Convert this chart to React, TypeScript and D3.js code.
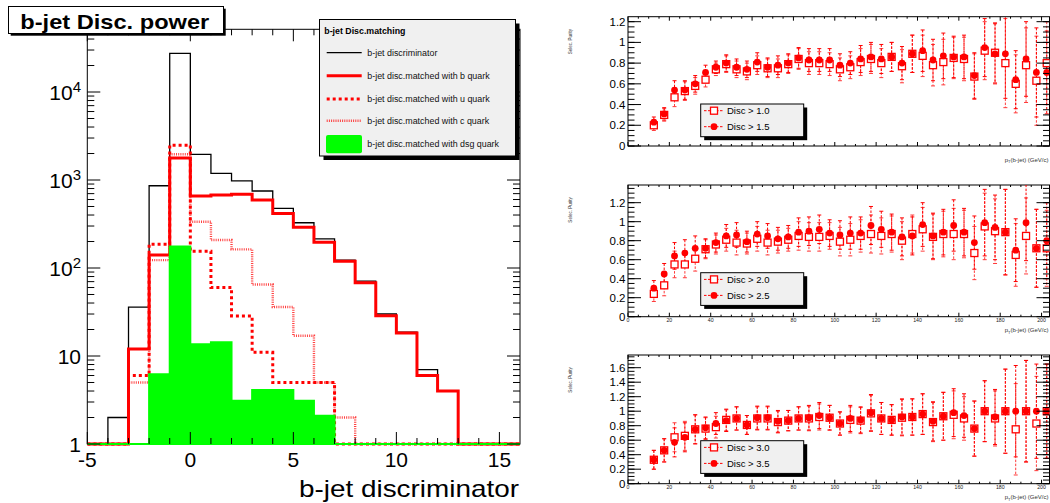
import React from 'react';
import * as d3 from 'd3';

const FONT = '"Liberation Sans", Arial, Helvetica, sans-serif';
const RED = '#ff0000';
const GREEN = '#00ff00';

// ---- left pad: b-jet discriminator, bins of width 1 (low edges)
const discBinLow = [-5, -4, -3, -2, -1, 0, 1, 2, 3, 4, 5, 6, 7, 8, 9, 10, 11, 12, 13, 14, 15];
const allJets = [0, 2, 36, 860, 27500, 1960, 1190, 980, 750, 477, 327, 214, 123, 71, 30, 18.7, 7, 4, 0, 0, 0];
const bQuark = [0, 0, 12, 141, 1780, 658, 675, 688, 593, 417, 290, 196, 119, 68, 28.7, 18.3, 6, 4, 0, 0, 0];
const uQuark = [0, 0, 6, 186, 2480, 155, 60, 28.5, 11, 5, 5, 5, 0, 0, 0, 0, 0, 0, 0, 0, 0];
const cQuark = [0, 0, 5, 123, 1960, 336, 208, 163, 65, 36, 17, 5, 2, 0, 0, 0, 0, 0, 0, 0, 0];
const dsgQuark = [0, 0, 0, 6.2, 175, 13.6, 14.3, 3.1, 4.1, 4.1, 3.1, 2.1, 0, 0, 0, 0, 0, 0, 0, 0, 0];

const discLegend = [
  'b-jet discriminator',
  'b-jet disc.matched with b quark',
  'b-jet disc.matched with u quark',
  'b-jet disc.matched with c quark',
  'b-jet disc.matched with dsg quark',
];
const discXTicks = [-5, 0, 5, 10, 15];
const discYTicks = [1, 10, 100, 1000, 10000];

// ---- right pads: selection purity vs pT(b-jet)
const ptBins = [12.5, 17.5, 22.5, 27.5, 32.5, 37.5, 42.5, 47.5, 52.5, 57.5, 62.5, 67.5, 72.5, 77.5, 82.5, 87.5,
  92.5, 97.5, 102.5, 107.5, 112.5, 117.5, 122.5, 127.5, 132.5, 137.5, 142.5, 147.5, 152.5, 157.5, 162.5, 167.5,
  172.5, 177.5, 182.5, 187.5, 192.5, 197.5, 202.5];

const purityDisc10 = [0.20, 0.30, 0.47, 0.53, 0.58, 0.64, 0.74, 0.79, 0.74, 0.72, 0.78, 0.75, 0.75, 0.79, 0.84, 0.80,
  0.80, 0.79, 0.74, 0.76, 0.81, 0.84, 0.80, 0.86, 0.77, 0.89, 0.87, 0.78, 0.81, 0.85, 0.84, 0.67, 0.92, 0.90, 0.80,
  0.60, 0.78, 0.63, 0.80];
const purityDisc15 = [0.23, 0.31, 0.54, 0.54, 0.60, 0.71, 0.76, 0.80, 0.76, 0.74, 0.81, 0.76, 0.78, 0.80, 0.85, 0.83,
  0.83, 0.83, 0.78, 0.80, 0.84, 0.86, 0.84, 0.86, 0.80, 0.89, 0.92, 0.83, 0.87, 0.86, 0.86, 0.68, 0.95, 0.89, 0.89,
  0.64, 0.84, 0.71, 0.71];
const errDisc1x = [0.05, 0.06, 0.09, 0.09, 0.08, 0.07, 0.06, 0.08, 0.08, 0.08, 0.09, 0.09, 0.09, 0.09, 0.10, 0.11,
  0.11, 0.11, 0.11, 0.11, 0.13, 0.14, 0.14, 0.14, 0.16, 0.18, 0.20, 0.20, 0.22, 0.20, 0.21, 0.22, 0.28, 0.29, 0.43,
  0.28, 0.36, 0.43, 0.40];

const purityDisc20 = [0.24, 0.33, 0.55, 0.55, 0.61, 0.71, 0.76, 0.81, 0.78, 0.77, 0.82, 0.78, 0.79, 0.81, 0.85, 0.84,
  0.84, 0.85, 0.79, 0.81, 0.85, 0.87, 0.85, 0.87, 0.80, 0.87, 0.92, 0.84, 0.87, 0.87, 0.87, 0.67, 0.95, 0.90, 0.89,
  0.65, 0.85, 0.72, 0.72];
const purityDisc25 = [0.30, 0.45, 0.64, 0.67, 0.72, 0.72, 0.78, 0.85, 0.86, 0.79, 0.87, 0.85, 0.82, 0.84, 0.89, 0.90,
  0.92, 0.88, 0.86, 0.88, 0.88, 0.96, 0.92, 0.89, 0.84, 0.85, 0.97, 0.85, 0.89, 0.96, 0.89, 0.78, 0.99, 0.94, 0.89,
  0.70, 0.99, 0.72, 0.80];
const errDisc2x = [0.08, 0.11, 0.14, 0.14, 0.13, 0.10, 0.10, 0.12, 0.13, 0.11, 0.13, 0.13, 0.12, 0.12, 0.15, 0.15,
  0.15, 0.14, 0.15, 0.17, 0.17, 0.20, 0.19, 0.19, 0.20, 0.20, 0.23, 0.24, 0.24, 0.27, 0.25, 0.28, 0.35, 0.34, 0.45,
  0.33, 0.40, 0.41, 0.40];

const purityDisc30 = [0.33, 0.46, 0.64, 0.66, 0.75, 0.76, 0.78, 0.88, 0.90, 0.81, 0.90, 0.90, 0.85, 0.87, 0.90, 0.90,
  0.92, 0.91, 0.83, 0.88, 0.87, 0.97, 0.90, 0.88, 0.91, 0.92, 0.96, 0.85, 0.93, 0.95, 0.90, 0.76, 1.0, 0.90, 1.0,
  0.75, 1.0, 0.83, 1.0];
const purityDisc35 = [0.33, 0.46, 0.57, 0.64, 0.75, 0.77, 0.83, 0.87, 0.90, 0.81, 0.91, 0.91, 0.86, 0.87, 0.90, 0.91,
  0.94, 0.91, 0.83, 0.90, 0.88, 0.98, 0.90, 0.88, 0.92, 0.92, 0.96, 0.86, 0.93, 0.98, 0.94, 0.76, 1.0, 0.92, 1.0,
  1.0, 1.0, 1.0, 1.0];
const errDisc3x = [0.13, 0.16, 0.20, 0.20, 0.20, 0.15, 0.15, 0.15, 0.16, 0.13, 0.16, 0.16, 0.15, 0.14, 0.16, 0.17,
  0.18, 0.17, 0.16, 0.18, 0.18, 0.25, 0.22, 0.21, 0.25, 0.25, 0.28, 0.27, 0.33, 0.33, 0.30, 0.38, 0.42, 0.38, 0.58,
  0.63, 0.70, 0.65, 0.65];

const ptTicks = [0, 20, 40, 60, 80, 100, 120, 140, 160, 180, 200];

const DiscPanel = () => {
  const L = 87.3, R = 520, T = 29.3, B = 444;
  const x = d3.scaleLinear().domain([-5, 16]).range([L, R]);
  const y = d3.scaleLog().domain([1, 51600]).range([B, T]);

  const steps = (vals: number[]) => {
    const pts: [number, number][] = [];
    vals.forEach((v, i) => {
      const yy = y(Math.max(v, 1));
      pts.push([x(discBinLow[i]), yy], [x(discBinLow[i] + 1), yy]);
    });
    return pts;
  };
  const line = d3.line();
  const area = d3.area().y0(y(1));

  const minorX = d3.range(-4, 16).filter((v) => !discXTicks.includes(v));
  const minorY: number[] = [];
  discYTicks.forEach((d) => {
    for (let k = 2; k <= 9; k++) if (k * d < 51600) minorY.push(k * d);
  });

  const rows = [52.7, 75.7, 99, 120.7, 144];

  return (
    <g>
      <defs>
        <clipPath id="discClip">
          <rect x={L} y={T} width={R - L} height={B - T + 2} />
        </clipPath>
      </defs>
      <rect x={L} y={T} width={R - L} height={B - T} fill="white" stroke="black" strokeWidth={1} />

      {/* histograms */}
      <g clipPath="url(#discClip)" fill="none">
        <path d={line(steps(allJets)) || ''} stroke="black" strokeWidth={1.3} />
        <path d={line(steps(bQuark)) || ''} stroke={RED} strokeWidth={3} />
        <path d={line(steps(uQuark)) || ''} stroke={RED} strokeWidth={3} strokeDasharray="3,3" />
        <path d={line(steps(cQuark)) || ''} stroke={RED} strokeWidth={2.4} strokeDasharray="1,1.2" opacity={0.75} />
        <path d={area(steps(dsgQuark)) || ''} fill={GREEN} stroke={GREEN} strokeWidth={2} />
      </g>

      {/* ticks */}
      <g stroke="black" strokeWidth={1}>
        {discXTicks.map((v) => (
          <React.Fragment key={'xm' + v}>
            <line x1={x(v)} x2={x(v)} y1={B} y2={B - 12} />
            <line x1={x(v)} x2={x(v)} y1={T} y2={T + 12} />
          </React.Fragment>
        ))}
        {minorX.map((v) => (
          <React.Fragment key={'xn' + v}>
            <line x1={x(v)} x2={x(v)} y1={B} y2={B - 6} />
            <line x1={x(v)} x2={x(v)} y1={T} y2={T + 6} />
          </React.Fragment>
        ))}
        {discYTicks.map((v) => (
          <React.Fragment key={'ym' + v}>
            <line x1={L} x2={L + 13} y1={y(v)} y2={y(v)} />
            <line x1={R} x2={R - 13} y1={y(v)} y2={y(v)} />
          </React.Fragment>
        ))}
        {minorY.map((v) => (
          <React.Fragment key={'yn' + v}>
            <line x1={L} x2={L + 7} y1={y(v)} y2={y(v)} />
            <line x1={R} x2={R - 7} y1={y(v)} y2={y(v)} />
          </React.Fragment>
        ))}
      </g>

      {/* tick labels */}
      <g fontFamily={FONT} fontSize={21} fill="black">
        {discXTicks.map((v) => (
          <text key={'xl' + v} x={x(v)} y={467} textAnchor="middle">{v}</text>
        ))}
        {discYTicks.map((v, i) => (
          <text key={'yl' + v} x={81} y={y(v) + 8} textAnchor="end">
            {i === 0 ? '1' : '10'}
            {i > 1 && <tspan fontSize={15} dy={-8}>{i}</tspan>}
          </text>
        ))}
      </g>

      <text x={299} y={497} fontFamily={FONT} fontSize={24} textLength={220} lengthAdjust="spacingAndGlyphs">
        b-jet discriminator
      </text>

      {/* title box */}
      <rect x={10.7} y={8.7} width={215} height={27} fill="black" />
      <rect x={8.5} y={6.5} width={215} height={27} fill="white" stroke="black" strokeWidth={1} />
      <text x={20.3} y={29} fontFamily={FONT} fontWeight="bold" fontSize={21} textLength={189} lengthAdjust="spacingAndGlyphs">
        b-jet Disc. power
      </text>

      {/* legend */}
      <rect x={323.5} y={23.5} width={196} height={136.5} fill="black" />
      <rect x={319.5} y={19.5} width={196} height={136.5} fill="#f0f0f0" stroke="black" strokeWidth={1} />
      <text x={324.3} y={33.5} fontFamily={FONT} fontWeight="bold" fontSize={8.8}>b-jet Disc.matching</text>
      <line x1={326.7} x2={361.7} y1={rows[0]} y2={rows[0]} stroke="black" strokeWidth={1.3} />
      <line x1={326.7} x2={361.7} y1={rows[1]} y2={rows[1]} stroke={RED} strokeWidth={3} />
      <line x1={326.7} x2={361.7} y1={rows[2]} y2={rows[2]} stroke={RED} strokeWidth={3} strokeDasharray="3,3" />
      <line x1={326.7} x2={361.7} y1={rows[3]} y2={rows[3]} stroke={RED} strokeWidth={2.4} strokeDasharray="1,1.2" opacity={0.75} />
      <rect x={326} y={135} width={36} height={18.3} rx={2} fill={GREEN} />
      {discLegend.map((t, i) => (
        <text key={t} x={367.3} y={rows[i] + 3} fontFamily={FONT} fontSize={8.9} fill="#111">{t}</text>
      ))}
    </g>
  );
};

interface PanelProps {
  id: string;
  top: number;
  bottom: number;
  yMax: number;
  yMajorMax: number;
  sq: number[];
  ci: number[];
  err: number[];
  labels: string[];
  showPtLabels: boolean;
  legTop: number;
}

const PurityPanel = ({ id, top, bottom, yMax, yMajorMax, sq, ci, err, labels, showPtLabels, legTop }: PanelProps) => {
  const L = 628, R = 1049.5;
  const x = d3.scaleLinear().domain([0, 205]).range([L, 1051.9]);
  const y = d3.scaleLinear().domain([0, yMax]).range([bottom, top]);
  const major = d3.range(0, yMajorMax + 0.001, 0.2);
  const minor = d3.range(0, yMax, 0.05);
  const minorPt = d3.range(0, 205, 5);
  const fmt = (v: number) => String(+v.toFixed(1));

  const errBars = (vals: number[], color: string, key: string) =>
    vals.map((v, i) => {
      const cx = x(ptBins[i]);
      const y1 = y(v + err[i]);
      const y2 = y(Math.max(v - err[i], 0));
      return (
        <g key={key + i} stroke={color} strokeWidth={1}>
          <line x1={cx} x2={cx} y1={y1} y2={y2} strokeDasharray="2.5,1.5" />
          <line x1={cx - 2} x2={cx + 2} y1={y1} y2={y1} />
          <line x1={cx - 2} x2={cx + 2} y1={y2} y2={y2} />
        </g>
      );
    });

  return (
    <g>
      <defs>
        <clipPath id={id}>
          <rect x={L} y={top} width={R - L} height={bottom - top} />
        </clipPath>
      </defs>
      <rect x={L} y={top} width={R - L} height={bottom - top} fill="white" stroke="black" strokeWidth={1} />

      <g clipPath={`url(#${id})`}>
        {errBars(sq, '#ff3a3a', 'es')}
        {errBars(ci, RED, 'ec')}
        {sq.map((v, i) => (
          <rect key={'s' + i} x={x(ptBins[i]) - 3.5} y={y(v) - 3.5} width={7} height={7}
            fill="white" stroke={RED} strokeWidth={1.3} />
        ))}
        {ci.map((v, i) => (
          <circle key={'c' + i} cx={x(ptBins[i])} cy={y(v)} r={3.4} fill={RED} />
        ))}
      </g>

      {/* axes ticks */}
      <g stroke="black" strokeWidth={1}>
        {major.map((v) => (
          <React.Fragment key={'m' + v}>
            <line x1={L} x2={L + 13} y1={y(v)} y2={y(v)} />
            <line x1={R} x2={R - 13} y1={y(v)} y2={y(v)} />
          </React.Fragment>
        ))}
        {minor.map((v) => (
          <React.Fragment key={'n' + v}>
            <line x1={L} x2={L + 6.5} y1={y(v)} y2={y(v)} />
            <line x1={R} x2={R - 6.5} y1={y(v)} y2={y(v)} />
          </React.Fragment>
        ))}
        {minorPt.map((v) => {
          const len = v % 20 === 0 ? 4 : 2;
          return (
            <React.Fragment key={'p' + v}>
              <line x1={x(v)} x2={x(v)} y1={bottom} y2={bottom - len} />
              <line x1={x(v)} x2={x(v)} y1={top} y2={top + len} />
            </React.Fragment>
          );
        })}
      </g>

      <g fontFamily={FONT} fontSize={11.5} textAnchor="end">
        {major.map((v) => (
          <text key={'l' + v} x={625.5} y={y(v) + 4}>{fmt(v)}</text>
        ))}
      </g>
      {showPtLabels && (
        <g fontFamily={FONT} fontSize={5.2} textAnchor="middle" fill="#222">
          {ptTicks.map((v) => (
            <text key={'pl' + v} x={x(v)} y={bottom + 5}>{v}</text>
          ))}
        </g>
      )}

      <text transform={`translate(572, ${top + 25}) rotate(-90)`} fontFamily={FONT} fontSize={4.5}
        textAnchor="middle" fill="#333">Selec. Purity</text>
      <text x={1048.5} y={bottom + 15.5} fontFamily={FONT} fontSize={6} textAnchor="end" fill="#333">
        p<tspan fontSize={4} dy={1.5}>T</tspan><tspan dy={-1.5}>(b-jet) (GeV/c)</tspan>
      </text>

      {/* legend */}
      <rect x={704.2} y={legTop + 3.5} width={103} height={32.7} fill="black" />
      <rect x={700.7} y={legTop} width={103} height={32.7} fill="#f0f0f0" stroke="black" strokeWidth={1} />
      {[0, 1].map((k) => {
        const ly = legTop + 6.7 + k * 16;
        return (
          <g key={'lg' + k}>
            <line x1={704} x2={723} y1={ly} y2={ly} stroke={RED} strokeWidth={1} strokeDasharray="2.5,1.5" />
            {k === 0 ? (
              <rect x={710.5} y={ly - 3.5} width={7} height={7} fill="white" stroke={RED} strokeWidth={1.3} />
            ) : (
              <circle cx={714} cy={ly} r={3.4} fill={RED} />
            )}
            <text x={727} y={ly + 3.4} fontFamily={FONT} fontSize={9.5}>{labels[k]}</text>
          </g>
        );
      })}
    </g>
  );
};

const App = () => {
  const panels: PanelProps[] = [
    { id: 'pad1', top: 16.7, bottom: 146, yMax: 1.248, yMajorMax: 1.2, sq: purityDisc10, ci: purityDisc15,
      err: errDisc1x, labels: ['Disc > 1.0', 'Disc > 1.5'], showPtLabels: false, legTop: 104 },
    { id: 'pad2', top: 185, bottom: 316.7, yMax: 1.386, yMajorMax: 1.2, sq: purityDisc20, ci: purityDisc25,
      err: errDisc2x, labels: ['Disc > 2.0', 'Disc > 2.5'], showPtLabels: true, legTop: 272.7 },
    { id: 'pad3', top: 355, bottom: 483.7, yMax: 1.775, yMajorMax: 1.6, sq: purityDisc30, ci: purityDisc35,
      err: errDisc3x, labels: ['Disc > 3.0', 'Disc > 3.5'], showPtLabels: true, legTop: 440.7 },
  ];
  return (
    <svg width={1050} height={503} style={{ position: 'absolute', left: 0, top: 0, background: 'white' }}>
      <rect width={1050} height={503} fill="white" />
      <DiscPanel />
      {panels.map((p) => (
        <PurityPanel key={p.id} {...p} />
      ))}
    </svg>
  );
};

export default App;
